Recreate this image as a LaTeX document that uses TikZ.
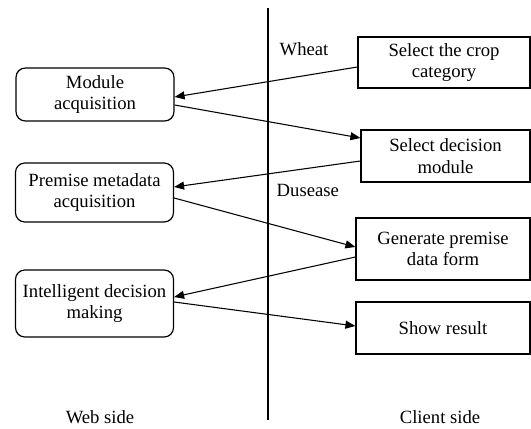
\documentclass[tikz,border=0pt]{standalone}
\usepackage{fontspec}
\setmainfont{Liberation Serif}
\usetikzlibrary{arrows.meta,calc}
\tikzset{
  webbox/.style={draw, line width=0.9pt, rounded corners=7pt, align=center, minimum width=118.5pt, inner sep=1pt},
  clientbox/.style={draw, line width=0.9pt, align=center, inner sep=1pt},
  link/.style={-{Triangle[length=7.5pt,width=6pt]}, line width=0.8pt}
}
\begin{document}
\begin{tikzpicture}[x=0.75pt, y=-0.75pt, font=\fontsize{14}{16}\selectfont]
    \useasboundingbox (0,0) rectangle (531,428);

    % web side
    \node[webbox, minimum height=39.75pt] (module) at (95,94.5) {Module\\acquisition};
    \node[webbox, minimum height=44.25pt] (premise) at (94.5,192.5) {Premise metadata\\acquisition};
    \node[webbox, minimum height=50.25pt] (decide) at (94.5,303.5) {Intelligent decision\\making};

    % client side
    \node[clientbox, minimum width=129pt, minimum height=38.25pt] (crop) at (444,62.5) {Select the crop\\category};
    \node[clientbox, minimum width=126.75pt, minimum height=39pt] (select) at (445.5,156) {Select decision\\module};
    \node[clientbox, minimum width=130.5pt, minimum height=46.5pt] (form) at (443,249) {Generate premise\\data form};
    \node[clientbox, minimum width=130.5pt, minimum height=39pt] (result) at (443,328) {Show result};

    \draw[line width=0.9pt] (268,8) -- (268,420);
    \node[anchor=west] (wheat) at (275,49) {Wheat};
    \node[anchor=west] (dusease) at (272,190) {Dusease};
    \node (web) at (100,417) {Web side};
    \node (client) at (440,417) {Client side};

    \draw[link] ($(crop.west)+(0,4.5)$) -- ($(module.east)+(0,2.5)$);
    \draw[link] ($(module.east)+(0,10.5)$) -- ($(select.west)+(0,-18)$);
    \draw[link] ($(select.west)+(0,5)$) -- ($(premise.east)+(0,-5.5)$);
    \draw[link] ($(premise.east)+(0,5.5)$) -- ($(form.west)+(0,-2)$);
    \draw[link] ($(form.west)+(0,8)$) -- ($(decide.east)+(0,-6.5)$);
    \draw[link] ($(decide.east)+(0,-1.5)$) -- ($(result.west)+(0,-2)$);
  \end{tikzpicture}
\end{document}
